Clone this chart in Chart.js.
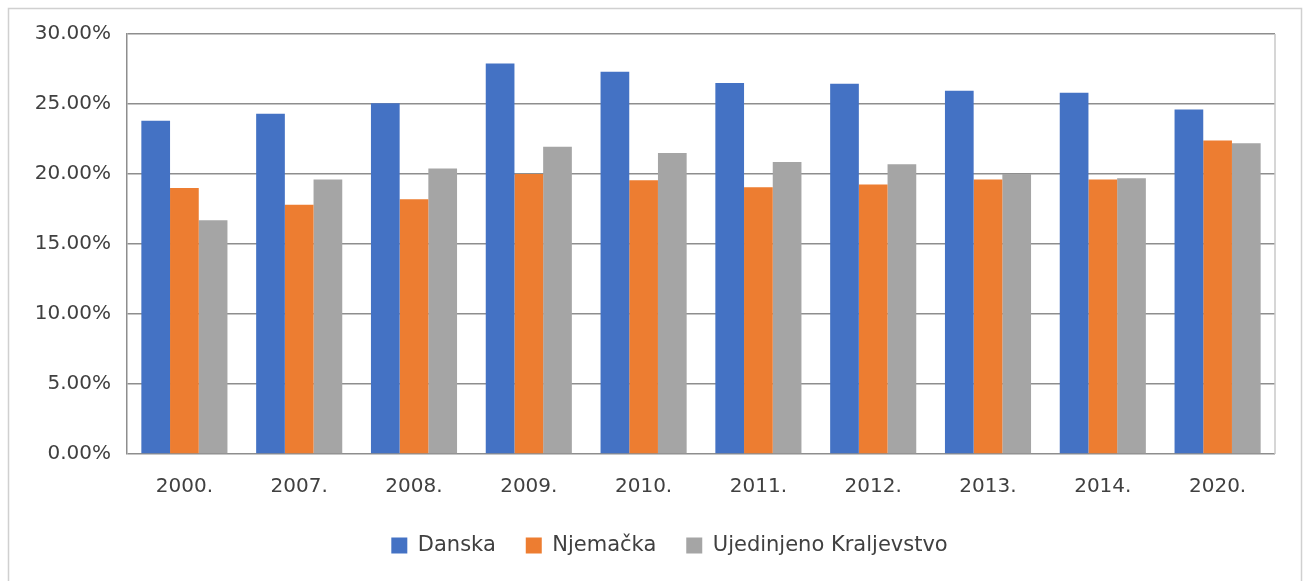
<!DOCTYPE html>
<html>
<head>
<meta charset="utf-8">
<script src="https://cdn.jsdelivr.net/npm/chart.js@4"></script>
<style>
html,body{margin:0;padding:0;background:#fff;}
#wrap{width:1308px;height:581px;position:relative;}
</style>
</head>
<body>
<div id="wrap"><canvas id="c" width="1308" height="581"></canvas></div>
<script>
const categories = ['2000.', '2007.', '2008.', '2009.', '2010.', '2011.', '2012.', '2013.', '2014.', '2020.'];
const seriesNames = ['Danska', 'Njemačka', 'Ujedinjeno Kraljevstvo'];
const danska = [23.8, 24.3, 25.05, 27.9, 27.3, 26.5, 26.45, 25.95, 25.8, 24.6];
const njemacka = [19.0, 17.8, 18.2, 20.0, 19.55, 19.05, 19.25, 19.6, 19.6, 22.4];
const uk = [16.7, 19.6, 20.4, 21.95, 21.5, 20.85, 20.7, 20.0, 19.7, 22.2];
const yTicks = [0, 5, 10, 15, 20, 25, 30];

const FONT = 'DejaVu Sans';

const framePlugin = {
  id: 'frame',
  afterLayout(chart) {
    const lg = chart.legend;
    if (lg) { lg.left += 32; lg.right += 32; }
  },
  beforeDraw(chart) {
    const ctx = chart.ctx;
    ctx.save();
    ctx.fillStyle = '#ffffff';
    ctx.fillRect(0, 0, chart.width, chart.height);
    ctx.strokeStyle = '#d0d0d0';
    ctx.lineWidth = 1.5;
    ctx.strokeRect(8.5, 8.5, 1293, 640);
    ctx.restore();
  },
  afterDatasetsDraw(chart) {
    const a = chart.chartArea;
    const ctx = chart.ctx;
    ctx.save();
    ctx.strokeStyle = '#c8c8c8';
    ctx.lineWidth = 1.5;
    ctx.beginPath();
    ctx.moveTo(a.right, a.top);
    ctx.lineTo(a.right, a.bottom);
    ctx.stroke();
    ctx.restore();
  }
};

new Chart(document.getElementById('c'), {
  type: 'bar',
  data: {
    labels: categories,
    datasets: [
      { label: seriesNames[0], data: danska, backgroundColor: '#4472C4' },
      { label: seriesNames[1], data: njemacka, backgroundColor: '#ED7D31' },
      { label: seriesNames[2], data: uk, backgroundColor: '#A5A5A5' }
    ]
  },
  options: {
    responsive: false,
    animation: false,
    layout: { padding: { left: 0, right: 33, top: 34, bottom: 15 } },
    datasets: { bar: { barPercentage: 1.0, categoryPercentage: 0.75 } },
    plugins: {
      tooltip: { enabled: false },
      legend: {
        position: 'bottom',
        labels: {
          font: { family: FONT, size: 21 },
          color: '#404040',
          boxWidth: 16,
          boxHeight: 16,
          padding: 30
        }
      }
    },
    scales: {
      x: {
        grid: { display: false, drawTicks: false },
        border: { display: false },
        ticks: { font: { family: FONT, size: 20 }, color: '#404040', padding: 21 },
        afterFit(scale) { scale.height = 51; }
      },
      y: {
        min: 0,
        max: 30,
        afterBuildTicks(scale) { scale.ticks = yTicks.map(v => ({ value: v })); },
        grid: { color: '#8e8e8e', lineWidth: 1.5, drawTicks: false },
        border: { display: true, color: '#8e8e8e', width: 1.5 },
        ticks: {
          font: { family: FONT, size: 20 },
          color: '#404040',
          padding: 16,
          callback: v => Number(v).toFixed(2) + '%'
        },
        afterFit(scale) { scale.width = 127; }
      }
    }
  },
  plugins: [framePlugin]
});
</script>
</body>
</html>
